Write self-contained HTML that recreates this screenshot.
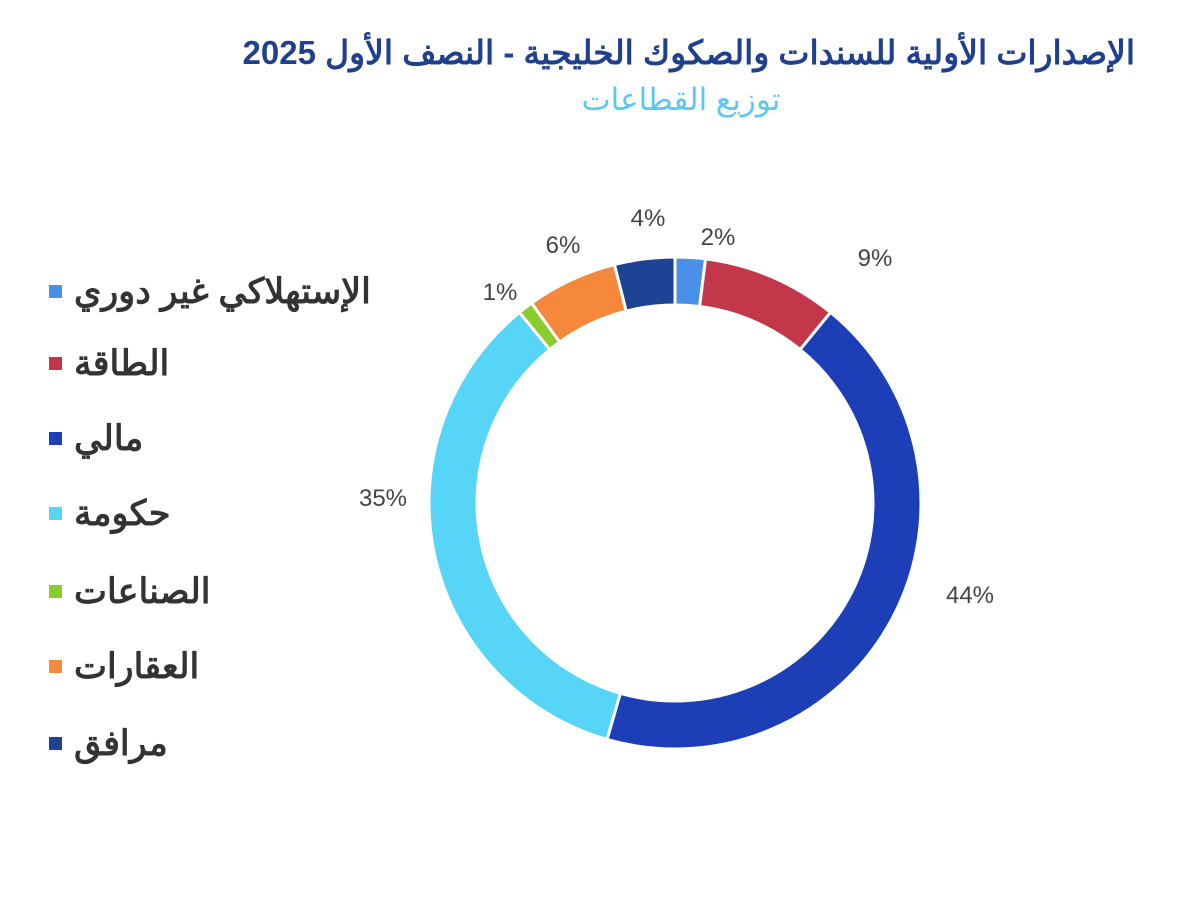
<!DOCTYPE html>
<html><head><meta charset="utf-8"><style>
html,body{margin:0;padding:0;background:#fff;}
body{position:relative;width:1200px;height:906px;overflow:hidden}
svg{display:block;position:absolute;left:0;top:0}
text,.t{font-family:"Liberation Sans","Noto Sans CJK SC",sans-serif;}
.t{position:absolute;direction:rtl;white-space:nowrap;line-height:1}
.lg{left:74px;font-size:35px;font-weight:bold;color:#333}
</style></head><body>
<svg id="s" width="1200" height="906" viewBox="0 0 1200 906">
<rect width="1200" height="906" fill="#fff"/>
<g id="donut"></g>
<g font-size="24" fill="#444" text-anchor="middle">
<text x="718" y="245">2%</text>
<text x="875" y="266">9%</text>
<text x="970" y="603">44%</text>
<text x="383" y="506">35%</text>
<text x="500" y="300">1%</text>
<text x="563" y="253">6%</text>
<text x="648" y="226">4%</text>
</g>
<rect x="49" y="285" width="13" height="13" fill="#4a8fe8"/>
<rect x="49" y="357" width="13" height="13" fill="#c2384a"/>
<rect x="49" y="432" width="13" height="13" fill="#1c3fb8"/>
<rect x="49" y="507" width="13" height="13" fill="#57d5f7"/>
<rect x="49" y="585" width="13" height="13" fill="#8acb2e"/>
<rect x="49" y="660" width="13" height="13" fill="#f5883b"/>
<rect x="49" y="737" width="13" height="13" fill="#1f4394"/>
</svg>
<div class="t" style="right:65px;top:36px;font-size:33px;font-weight:bold;color:#1f3f8f">الإصدارات الأولية للسندات والصكوك الخليجية - النصف الأول 2025</div>
<div class="t" style="left:0;width:1362px;text-align:center;top:84px;font-size:31px;color:#5cc8ee">توزيع القطاعات</div>
<div class="t lg" style="top:274px">الإستهلاكي غير دوري</div>
<div class="t lg" style="top:346px">الطاقة</div>
<div class="t lg" style="top:421px">مالي</div>
<div class="t lg" style="top:496px">حكومة</div>
<div class="t lg" style="top:574px">الصناعات</div>
<div class="t lg" style="top:649px">العقارات</div>
<div class="t lg" style="top:726px">مرافق</div>
<script>
var cx=675,cy=503,R=246,r=198;
var vals=[2,9,44,35,1,6,4],cols=["#4a8fe8","#c2384a","#1c3fb8","#57d5f7","#8acb2e","#f5883b","#1f4394"];
var tot=101,a=0,g=document.getElementById("donut"),h="";
function p(rad,ang){var t=ang*Math.PI/180;return (cx+rad*Math.sin(t)).toFixed(2)+","+(cy-rad*Math.cos(t)).toFixed(2);}
for(var i=0;i<vals.length;i++){var b=a+vals[i]*360/tot,l=(b-a)>180?1:0;
h+='<path d="M'+p(R,a)+' A'+R+','+R+' 0 '+l+' 1 '+p(R,b)+' L'+p(r,b)+' A'+r+','+r+' 0 '+l+' 0 '+p(r,a)+' Z" fill="'+cols[i]+'" stroke="#fff" stroke-width="3"/>';a=b;}
g.innerHTML=h;
</script>
</body></html>
